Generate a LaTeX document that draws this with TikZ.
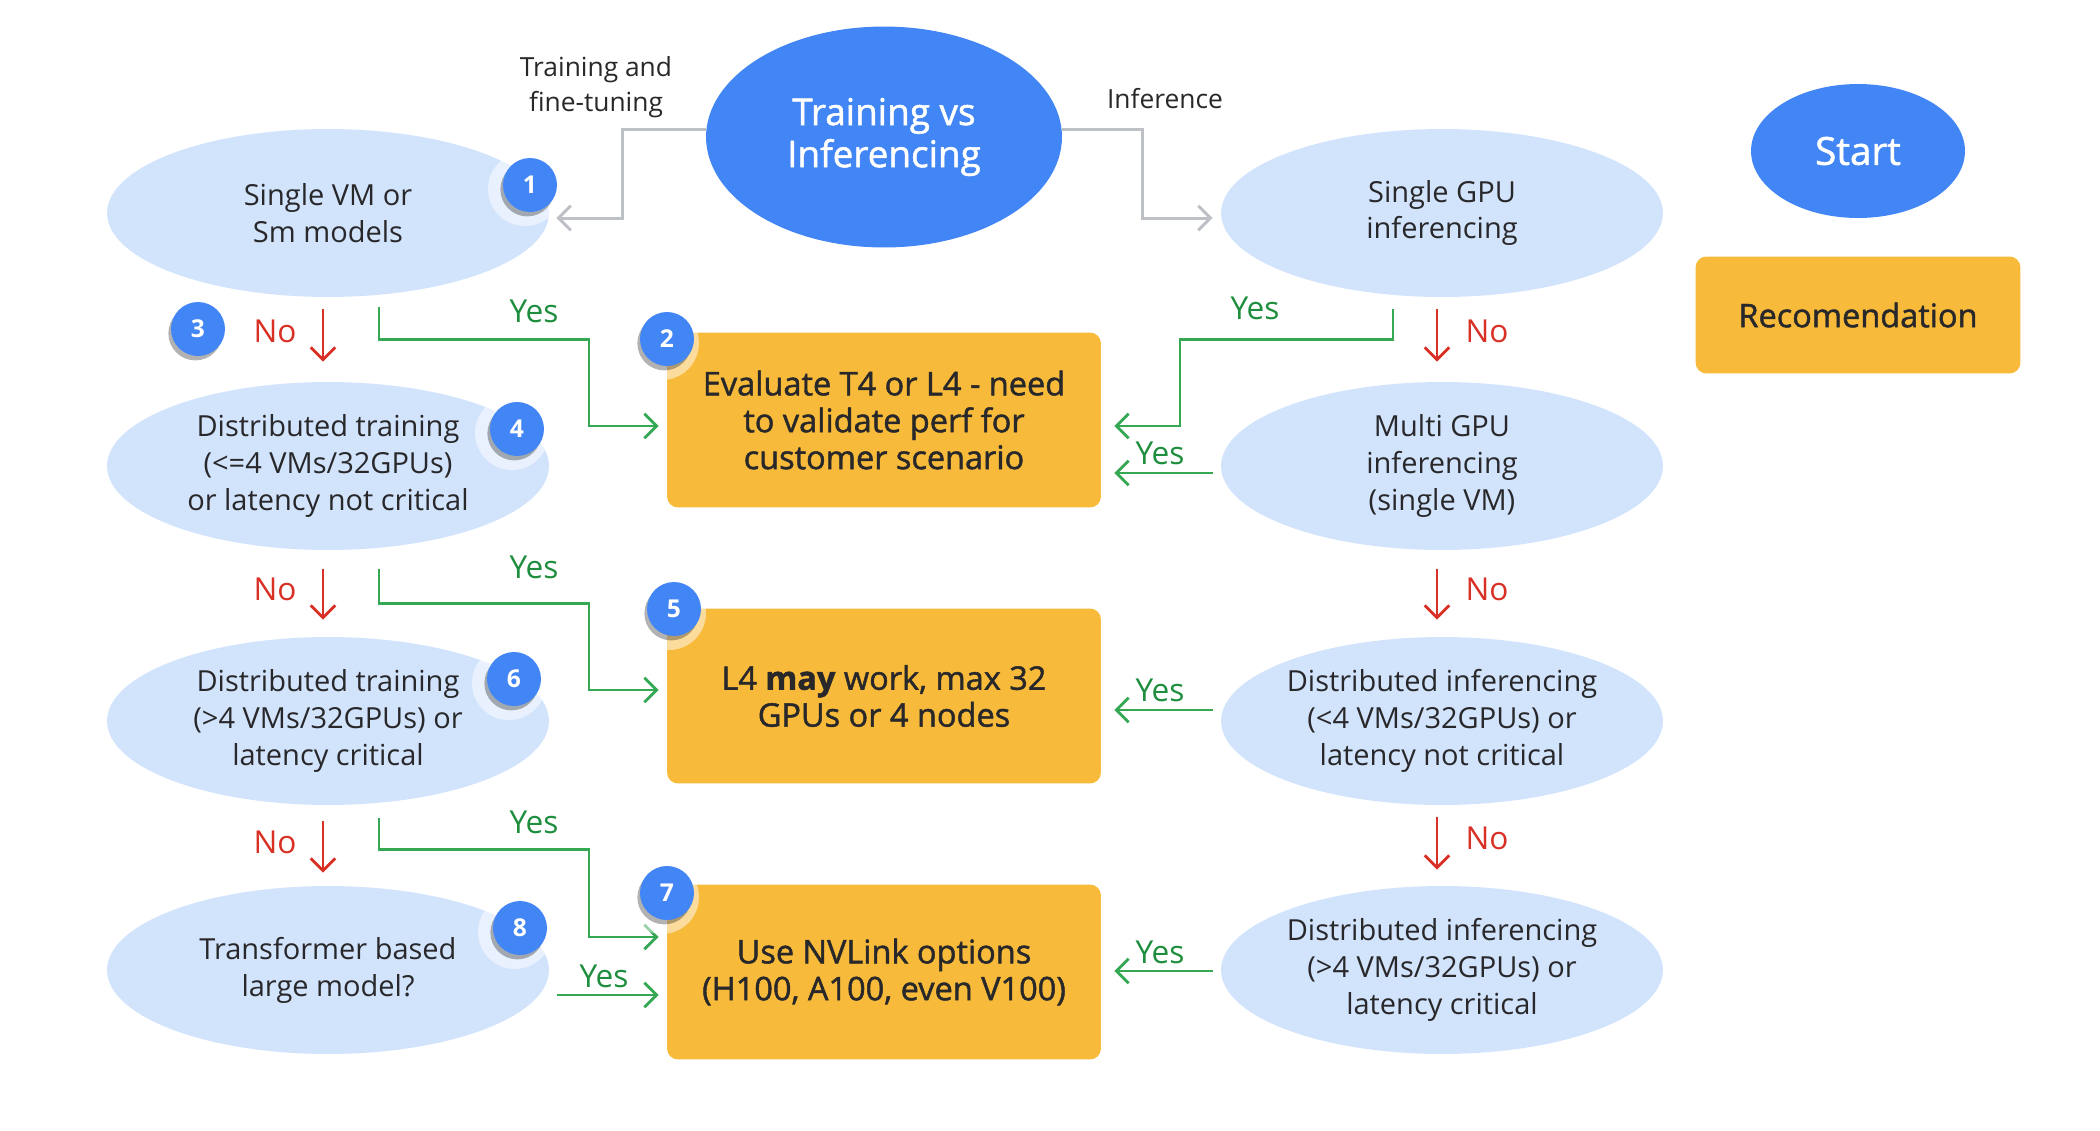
\documentclass[tikz,border=0pt]{standalone}
\usepackage{fontspec}
\setmainfont{Open Sans}
\newfontfamily\medfont{Open Sans}[FakeBold=1.4]
\usetikzlibrary{arrows.meta,calc,positioning,shapes.geometric,shadows}
\definecolor{gblue}{RGB}{66,133,244}
\definecolor{gpale}{RGB}{210,227,252}
\definecolor{gamber}{RGB}{247,186,58}
\definecolor{ggreen}{RGB}{52,168,83}
\definecolor{gyestext}{RGB}{30,142,62}
\definecolor{gred}{RGB}{217,48,37}
\definecolor{ggray}{RGB}{189,193,198}
\definecolor{ink}{RGB}{40,40,42}

\tikzset{
  question/.style={ellipse,fill=gpale,minimum width=8.84cm,minimum height=3.36cm,inner sep=0pt,
    align=center,text=ink,font=\fontsize{16.5}{21}\selectfont},
  answer/.style={rectangle,rounded corners=0.22cm,fill=gamber,minimum width=8.68cm,minimum height=3.5cm,
    align=center,text=ink,font=\medfont\fontsize{18.5}{21}\selectfont},
  hub/.style={ellipse,fill=gblue,text=white,align=center,inner sep=0pt},
  badge/.style={circle,fill=gblue,text=white,minimum size=1.08cm,inner sep=0pt,
    font=\bfseries\fontsize{14}{14}\selectfont,
    drop shadow={shadow xshift=-1.5pt,shadow yshift=-2.5pt,opacity=.3,fill=black}},
  yesline/.style={draw=ggreen,line width=1.6pt,-{Straight Barb[length=7pt,width=14pt]}},
  noline/.style={draw=gred,line width=1.6pt,-{Straight Barb[length=7pt,width=14pt]}},
  grayline/.style={draw=ggray,line width=1.7pt,-{Straight Barb[length=7pt,width=14pt]}},
  yeslbl/.style={text=gyestext,font=\fontsize{18}{18}\selectfont},
  nolbl/.style={text=gred,font=\fontsize{18}{18}\selectfont},
  note/.style={align=center,text=ink,font=\fontsize{15}{20}\selectfont},
}

\begin{document}
\begin{tikzpicture}[x=0.02cm,y=-0.02cm]
  \useasboundingbox (0,0) rectangle (2100,1130);

  % legend
  \node[hub,minimum width=4.28cm,minimum height=2.68cm,font=\medfont\fontsize{22}{22}\selectfont] (start) at (1858,151) {Start};
  \node[answer,minimum width=6.5cm,minimum height=2.34cm] (rec) at (1858,315) {Recomendation};

  % root
  \node[hub,minimum width=7.12cm,minimum height=4.42cm,font=\medfont\fontsize{21}{24}\selectfont] (train) at (884,137) {Training vs\\Inferencing};

  % training column
  \node[question] (t1) at (328,213) {Single VM or\\Sm models};
  \node[question] (t2) at (328,466) {Distributed training\\(<=4 VMs/32GPUs)\\or latency not critical};
  \node[question] (t3) at (328,721) {Distributed training\\(>4 VMs/32GPUs) or\\latency critical};
  \node[question] (t4) at (328,970) {Transformer based\\large model?};

  % inference column
  \node[question] (i1) at (1442,213) {Single GPU\\inferencing};
  \node[question] (i2) at (1442,466) {Multi GPU\\inferencing\\(single VM)};
  \node[question] (i3) at (1442,721) {Distributed inferencing\\(<4 VMs/32GPUs) or\\latency not critical};
  \node[question] (i4) at (1442,970) {Distributed inferencing\\(>4 VMs/32GPUs) or\\latency critical};

  % recommendations
  \node[answer] (r1) at (884,420) {Evaluate T4 or L4 - need\\to validate perf for\\customer scenario};
  \node[answer] (r2) at (884,696) {L4 {\bfseries may} work, max 32\\GPUs or 4 nodes};
  \node[answer] (r3) at (884,972) {Use NVLink options\\(H100, A100, even V100)};

  % first split
  \draw[grayline] ($(train.west)+(0,-8)$) -- ++(-83,0) |- ($(t1.east)+(7,5)$);
  \draw[grayline] ($(train.east)+(0,-8)$) -- ++(80,0) |- ($(i1.west)+(-8,5)$);
  \node[note] (ltrain) at (596,87) {Training and\\fine-tuning};
  \node[note] (linfer) at (1165,99) {Inference};

  % yes branches
  \draw[yesline] ($(t1.south)+(51,10)$) |- ++(210,32) |- ($(r1.west)+(-8,6)$);
  \draw[yesline] ($(t2.south)+(51,19)$) |- ++(210,34) |- ($(r2.west)+(-8,-6)$);
  \draw[yesline] ($(t3.south)+(51,13)$) |- ++(210,31) |- ($(r3.west)+(-8,-35)$);
  \draw[yesline] ($(t4.east)+(8,25)$) -- ($(r3.west)+(-8,23)$);
  \draw[yesline] ($(i1.south)+(-49,12)$) |- ++(-213,30) |- ($(r1.east)+(13,6)$);
  \draw[yesline] ($(i2.west)+(-8,7)$) -- ($(r1.east)+(13,53)$);
  \draw[yesline] ($(i3.west)+(-8,-11)$) -- ($(r2.east)+(13,14)$);
  \draw[yesline] ($(i4.west)+(-8,1)$) -- ($(r3.east)+(13,-1)$);

  % no branches
  \draw[noline] ($(t1.south)+(-5,12)$) -- ($(t2.north)+(-5,-20)$);
  \draw[noline] ($(t2.south)+(-5,19)$) -- ($(t3.north)+(-5,-17)$);
  \draw[noline] ($(t3.south)+(-5,16)$) -- ($(t4.north)+(-5,-13)$);
  \draw[noline] ($(i1.south)+(-5,12)$) -- ($(i2.north)+(-5,-20)$);
  \draw[noline] ($(i2.south)+(-5,19)$) -- ($(i3.north)+(-5,-17)$);
  \draw[noline] ($(i3.south)+(-5,12)$) -- ($(i4.north)+(-5,-16)$);

  \foreach \x/\y [count=\k] in {534/311,534/567,534/822,604/976,1255/308,1160/453,1160/690,1160/952}
    \node[yeslbl] (yes\k) at (\x,\y) {Yes};
  \foreach \x/\y [count=\k] in {275/331,275/589,275/842,1487/331,1487/589,1487/838}
    \node[nolbl] (no\k) at (\x,\y) {No};

  % step badges
  \foreach \n/\x/\y in {1/530/185,2/667/339,3/198/329,4/517/429,5/674/609,6/514/679,7/667/893,8/520/928}{
    \fill[white,opacity=.5] (\x-5,\y+4) circle[radius=0.74cm];
    \node[badge] (b\n) at (\x,\y) {\n};
  }
\end{tikzpicture}
\end{document}
